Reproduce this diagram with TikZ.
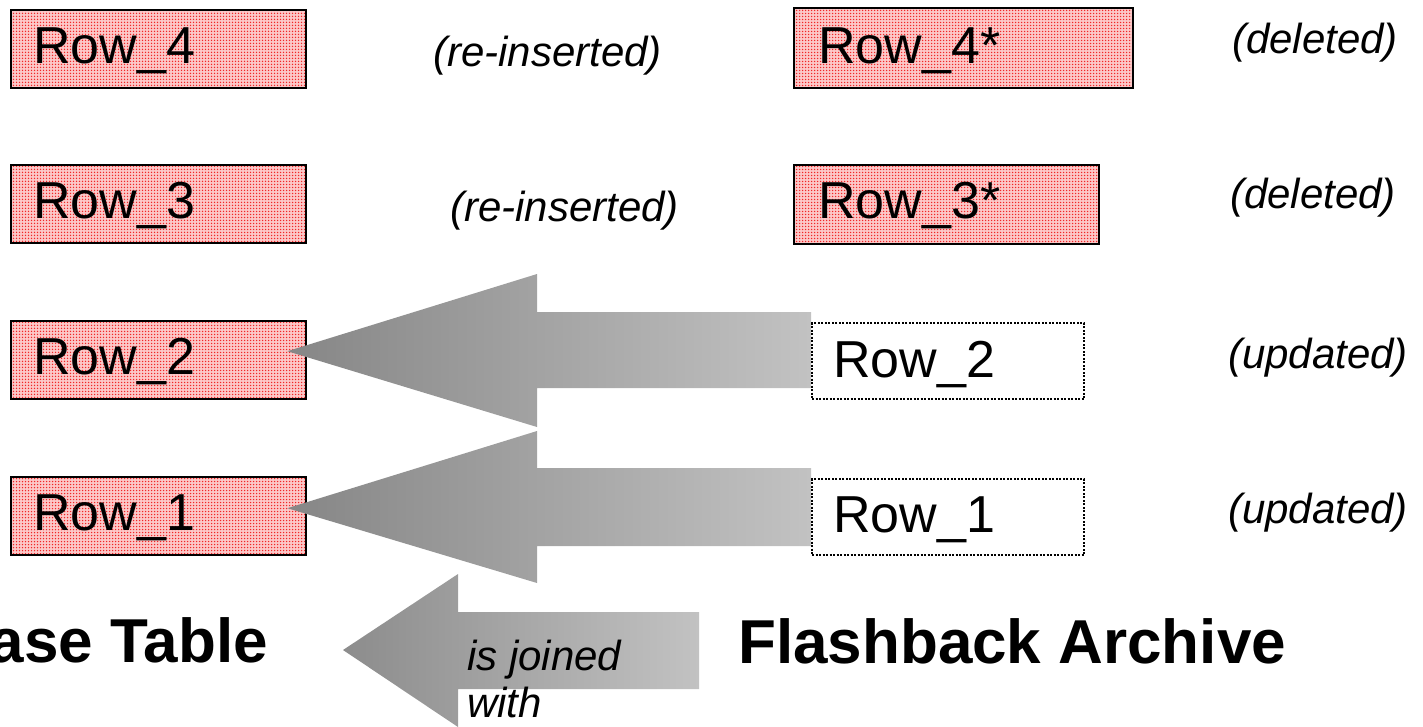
\documentclass[tikz,border=0pt]{standalone}
\usepackage{fontspec}
\setmainfont{Liberation Sans}
\usetikzlibrary{calc,patterns.meta}
\definecolor{rowpink}{RGB}{252,200,200}
\definecolor{dotred}{RGB}{240,40,40}
\definecolor{arrowdark}{RGB}{134,134,134}
\definecolor{arrowlight}{RGB}{194,194,194}
% fine red dot screen used for the table rows
\tikzdeclarepattern{
  name=rowdots,
  type=uncolored,
  bounding box={(-0.1pt,-0.1pt) and (3.1pt,3.1pt)},
  tile size={(3pt,3pt)},
  code={\fill (1.5pt,1.5pt) circle (0.75pt);}
}
\begin{document}
\begin{tikzpicture}[x=1pt,y=-1pt,
  rowbox/.style={draw=black,line width=2.4pt,preaction={fill=rowpink},
    pattern={rowdots},pattern color=dotred,anchor=north west,inner sep=0pt},
  oldbox/.style={draw=black,line width=2pt,dash pattern=on 2pt off 1.5pt,anchor=north west,inner sep=0pt},
  rowtext/.style={anchor=base west,inner sep=0pt,font=\fontsize{52}{60}\selectfont},
  note/.style={anchor=base west,inner sep=0pt,font=\fontsize{42}{47}\selectfont\itshape},
  heading/.style={inner sep=0pt,font=\fontsize{62}{70}\selectfont\bfseries},
  blockarrow/.style={left color=arrowdark,right color=arrowlight}]
\useasboundingbox (0,0) rectangle (1423,726);
\clip (0,0) rectangle (1423,726);

% rows of the base table
\node[rowbox,minimum width=295pt,minimum height=78pt] (L4) at (10,9) {};
\node[rowbox,minimum width=295pt,minimum height=78pt] (L3) at (10,164) {};
\node[rowbox,minimum width=295pt,minimum height=78pt] (L2) at (10,320) {};
\node[rowbox,minimum width=295pt,minimum height=78pt] (L1) at (10,476) {};
\foreach \n in {4,3,2,1}
  \node[rowtext] (L\n t) at ($(L\n.north west)+(23,54)$) {Row\_\n};

% rows of the flashback archive
\node[rowbox,minimum width=339pt,minimum height=80pt] (R4) at (793,7) {};
\node[rowbox,minimum width=305pt,minimum height=79pt] (R3) at (793,164) {};
\node[rowtext] (R4t) at ($(R4.north west)+(25,56)$) {Row\_4*};
\node[rowtext] (R3t) at ($(R3.north west)+(25,54)$) {Row\_3*};

% block arrows from the archive to the base table
\coordinate (tipA) at ($(L2.east)+(-20,-9)$);
\coordinate (tipB) at ($(L1.east)+(-20,-8)$);
\shade[blockarrow] (tipA) -- (537,274) -- (537,312) -- (811,312) -- (811,388)
  -- (537,388) -- (537,427) -- cycle;
\shade[blockarrow] (tipB) -- (537,431) -- (537,468) -- (811,468) -- (811,546)
  -- (537,546) -- (537,583) -- cycle;
\shade[left color=arrowdark!95!white,right color=arrowlight] (343,650) -- (458,574) -- (458,612)
  -- (699,612) -- (699,689) -- (458,689) -- (458,727) -- cycle;

\node[oldbox,minimum width=272pt,minimum height=76pt] (R2) at (811,322) {};
\node[oldbox,minimum width=272pt,minimum height=76pt] (R1) at (811,478) {};
\node[rowtext] (R2t) at ($(R2.north west)+(22,55)$) {Row\_2};
\node[rowtext] (R1t) at ($(R1.north west)+(22,54)$) {Row\_1};

% annotations
\node[note] (n4) at (433,66) {(re-inserted)};
\node[note] (n3) at (450,221) {(re-inserted)};
\node[note] (d4) at (1232,53) {(deleted)};
\node[note] (d3) at (1230,208) {(deleted)};
\node[note] (u2) at (1228,368) {(updated)};
\node[note] (u1) at (1228,523) {(updated)};

% headings
\node[heading,anchor=base east] (base) at (268,662) {Base Table};
\node[heading,anchor=base west] (fba) at (738,663) {Flashback Archive};
\node[note] (join1) at (467,670) {is joined};
\node[note] (join2) at (467,717) {with};
\end{tikzpicture}
\end{document}
